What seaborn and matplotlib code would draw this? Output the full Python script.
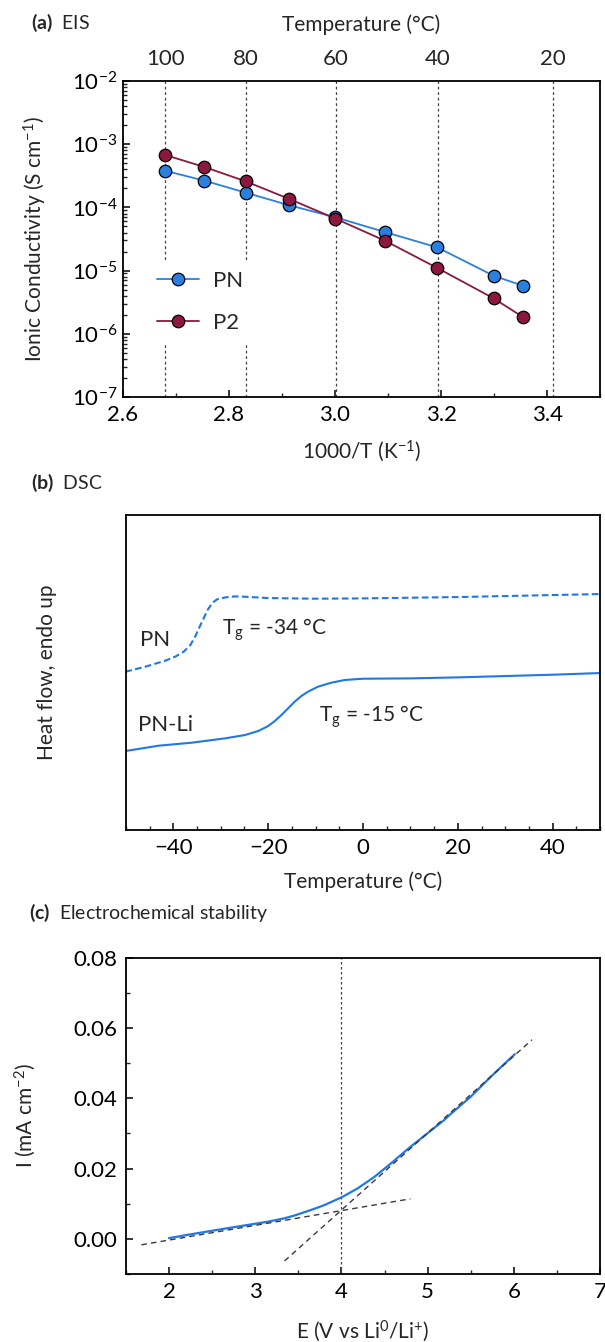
import numpy as np
import pandas as pd
import matplotlib
matplotlib.use("Agg")
import matplotlib.pyplot as plt
from matplotlib.ticker import LogLocator, MultipleLocator, NullFormatter
import seaborn as sns

# (a) EIS: ionic conductivity vs 1000/T
inv_T = [2.680, 2.754, 2.832, 2.914, 3.001, 3.094, 3.193, 3.299, 3.354]
sigma_PN = [3.8e-4, 2.65e-4, 1.71e-4, 1.08e-4, 6.97e-5, 4.08e-5, 2.33e-5, 8.3e-6, 5.78e-6]
sigma_P2 = [6.75e-4, 4.36e-4, 2.58e-4, 1.36e-4, 6.64e-5, 2.98e-5, 1.10e-5, 3.64e-6, 1.85e-6]
temp_ticks_C = [100, 80, 60, 40, 20]

# (b) DSC traces (arbitrary heat-flow units)
dsc_T_PN = [-50.1, -45.9, -41.7, -39.6, -37.8, -36.4, -35.4, -34.6, -33.6, -32.7, -31.7,
            -30.8, -29, -27, -25, -20, -10, 0, 10, 20, 30, 40, 50]
dsc_PN = [47.5, 49.0, 50.8, 52.0, 53.5, 55.5, 58.0, 60.5, 63.5, 66.2, 68.2,
          69.2, 69.8, 70.1, 70.0, 69.6, 69.4, 69.5, 69.7, 69.9, 70.2, 70.5, 70.8]
dsc_T_PNLi = [-50.1, -43.1, -36.1, -29.1, -24.9, -22.1, -20.0, -18.6, -17.2, -15.8, -14.4,
              -13.0, -11.6, -9.5, -6.7, -3.9, -1.1, 0.3, 10, 20, 30, 40, 50]
dsc_PNLi = [23.7, 25.3, 26.2, 27.5, 28.5, 29.7, 31.2, 32.7, 34.5, 36.5, 38.5,
            40.2, 41.5, 43.0, 44.2, 45.0, 45.3, 45.4, 45.5, 45.8, 46.2, 46.6, 47.1]

# (c) linear sweep voltammetry
lsv_E = [2.0, 2.28, 2.67, 3.0, 3.15, 3.33, 3.45, 3.56, 3.68, 3.80, 3.9, 4.0, 4.19, 4.38,
         4.58, 4.77, 5.0, 5.2, 5.25, 5.5, 5.75, 6.01]
lsv_I = [0.0002, 0.0014, 0.0030, 0.0043, 0.0049, 0.0058, 0.0066, 0.0075, 0.0085, 0.0096,
         0.0107, 0.0118, 0.0144, 0.0176, 0.0216, 0.0256, 0.0301, 0.0340, 0.0352, 0.0405,
         0.0466, 0.0526]
tangent_low_E = [1.68, 4.80]
tangent_low_I = [-0.0017, 0.0114]
tangent_high_E = [3.34, 6.21]
tangent_high_I = [-0.0063, 0.0567]
onset_E = 4.0

BLUE = "#2a80e0"
MAROON = "#8c1840"
LINE_BLUE = "#1f78e6"

sns.set_theme(style="ticks")
plt.rcParams["font.family"] = ["Lato", "DejaVu Sans"]
plt.rcParams["mathtext.fontset"] = "custom"
plt.rcParams["mathtext.rm"] = "Lato"
plt.rcParams["mathtext.it"] = "Lato:italic"
plt.rcParams["mathtext.bf"] = "Lato:bold"
plt.rcParams["axes.linewidth"] = 1.3
plt.rcParams["axes.edgecolor"] = "black"

TICK_FS = 16
LABEL_FS = 15
TITLE_FS = 14

fig = plt.figure(figsize=(6.05, 13.42), dpi=100)
ax_a = fig.add_axes([0.203, 0.7042, 0.789, 0.2354])
ax_b = fig.add_axes([0.208, 0.3815, 0.784, 0.2347])
ax_c = fig.add_axes([0.208, 0.0507, 0.784, 0.2355])


def style_ticks(ax):
    ax.tick_params(axis="both", which="major", direction="in", length=5, width=1.1,
                   labelsize=TICK_FS, colors="black", pad=6)
    ax.tick_params(axis="both", which="minor", direction="in", length=3, width=1.0)
    for s in ax.spines.values():
        s.set_visible(True)
        s.set_color("black")
        s.set_linewidth(1.3)


# ---------- (a) EIS ----------
df_a = pd.DataFrame({
    "x": inv_T * 2,
    "sigma": sigma_PN + sigma_P2,
    "sample": ["PN"] * len(inv_T) + ["P2"] * len(inv_T),
})
sns.lineplot(data=df_a, x="x", y="sigma", hue="sample", ax=ax_a,
             palette={"PN": BLUE, "P2": MAROON}, marker="o", markersize=9,
             markeredgecolor="black", markeredgewidth=0.9, linewidth=1.3,
             zorder=5)
ax_a.set_yscale("log")
ax_a.set_xlim(2.6, 3.5)
ax_a.set_ylim(1e-7, 1e-2)
temp_pos = [1000.0 / (t + 273.15) for t in temp_ticks_C]
for xp in temp_pos:
    ax_a.axvline(xp, color="#444444", linestyle=(0, (2.2, 2.2)), linewidth=0.9, zorder=1)
ax_a.set_xticks([2.6, 2.8, 3.0, 3.2, 3.4])
ax_a.set_xticklabels(["2.6", "2.8", "3.0", "3.2", "3.4"])
ax_a.xaxis.set_minor_locator(MultipleLocator(0.1))
ax_a.yaxis.set_major_locator(LogLocator(base=10, numticks=10))
ax_a.yaxis.set_minor_locator(LogLocator(base=10, subs=np.arange(2, 10), numticks=20))
ax_a.yaxis.set_minor_formatter(NullFormatter())
style_ticks(ax_a)
ax_a.tick_params(axis="y", which="major", pad=4)
ax_a.set_xlabel("1000/T (K$^{-1}$)", fontsize=LABEL_FS)
ax_a.set_ylabel("Ionic Conductivity (S cm$^{-1}$)", fontsize=LABEL_FS)
ax_a.xaxis.set_label_coords(0.5, -0.13)
ax_a.yaxis.set_label_coords(-0.155, 0.5)
leg = ax_a.legend(loc="upper left", bbox_to_anchor=(0.025, 0.47), frameon=True,
                  fontsize=16, handlelength=1.9, labelspacing=1.0,
                  borderpad=0.5, handletextpad=0.6)
leg.get_frame().set_facecolor("white")
leg.get_frame().set_edgecolor("none")
leg.get_frame().set_alpha(1.0)
leg.set_zorder(10)

top = ax_a.twiny()
top.set_xlim(ax_a.get_xlim())
top.set_xticks(temp_pos)
top.set_xticklabels([str(t) for t in temp_ticks_C])
top.tick_params(axis="x", length=0, labelsize=TICK_FS, pad=9)
top.set_xlabel("Temperature (°C)", fontsize=LABEL_FS, labelpad=13)
for s in top.spines.values():
    s.set_visible(False)

fig.text(0.052, 0.983, r"$\mathbf{(a)}$  EIS", fontsize=TITLE_FS, ha="left", va="center")

# ---------- (b) DSC ----------
df_pn = pd.DataFrame({"T": dsc_T_PN, "hf": dsc_PN})
df_li = pd.DataFrame({"T": dsc_T_PNLi, "hf": dsc_PNLi})
sns.lineplot(data=df_pn, x="T", y="hf", ax=ax_b, color=LINE_BLUE, linewidth=1.5,
             linestyle=(0, (3.2, 1.6)), sort=False)
sns.lineplot(data=df_li, x="T", y="hf", ax=ax_b, color=LINE_BLUE, linewidth=1.5, sort=False)
ax_b.set_xlim(-50, 50)
ax_b.set_ylim(0, 94.5)
ax_b.set_xticks([-40, -20, 0, 20, 40])
ax_b.xaxis.set_minor_locator(MultipleLocator(5))
ax_b.set_yticks([])
style_ticks(ax_b)
ax_b.text(-47, 57, "PN", fontsize=16, ha="left", va="center")
ax_b.text(-47.5, 31.5, "PN-Li", fontsize=16, ha="left", va="center")
ax_b.text(-29.8, 60, r"T$_\mathrm{g}$ = -34 °C", fontsize=15, ha="left", va="center")
ax_b.text(-9.2, 34, r"T$_\mathrm{g}$ = -15 °C", fontsize=15, ha="left", va="center")
ax_b.set_xlabel("Temperature (°C)", fontsize=LABEL_FS)
ax_b.set_ylabel("Heat flow, endo up", fontsize=LABEL_FS)
ax_b.xaxis.set_label_coords(0.5, -0.13)
ax_b.yaxis.set_label_coords(-0.145, 0.5)

fig.text(0.052, 0.640, r"$\mathbf{(b)}$  DSC", fontsize=TITLE_FS, ha="left", va="center")

# ---------- (c) Electrochemical stability ----------
df_c = pd.DataFrame({"E": lsv_E, "I": lsv_I})
ax_c.axvline(onset_E, color="#444444", linestyle=(0, (2, 2)), linewidth=0.9, zorder=1)
sns.lineplot(x=tangent_low_E, y=tangent_low_I, ax=ax_c, color="#3a3a3a",
             linestyle=(0, (4, 3)), linewidth=1.0, zorder=3)
sns.lineplot(x=tangent_high_E, y=tangent_high_I, ax=ax_c, color="#3a3a3a",
             linestyle=(0, (4, 3)), linewidth=1.0, zorder=3)
sns.lineplot(data=df_c, x="E", y="I", ax=ax_c, color=LINE_BLUE, linewidth=1.6, zorder=2)
ax_c.set_xlim(1.5, 7)
ax_c.set_ylim(-0.01, 0.08)
ax_c.set_xticks([2, 3, 4, 5, 6, 7])
ax_c.xaxis.set_minor_locator(MultipleLocator(0.5))
ax_c.set_yticks([0.0, 0.02, 0.04, 0.06, 0.08])
ax_c.set_yticklabels(["0.00", "0.02", "0.04", "0.06", "0.08"])
ax_c.yaxis.set_minor_locator(MultipleLocator(0.01))
style_ticks(ax_c)
ax_c.set_xlabel("E (V vs Li$^{0}$/Li$^{+}$)", fontsize=LABEL_FS)
ax_c.set_ylabel("I (mA cm$^{-2}$)", fontsize=LABEL_FS)
ax_c.xaxis.set_label_coords(0.5, -0.14)
ax_c.yaxis.set_label_coords(-0.185, 0.5)

fig.text(0.048, 0.3195, r"$\mathbf{(c)}$  Electrochemical stability", fontsize=TITLE_FS,
         ha="left", va="center")

fig.savefig("out.png", dpi=100, facecolor="white")
